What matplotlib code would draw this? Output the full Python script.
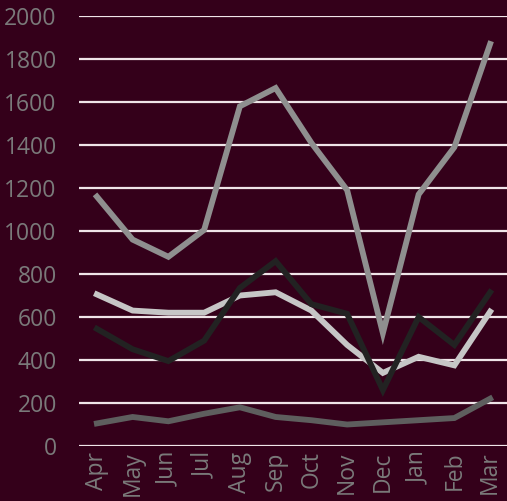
import matplotlib.pyplot as plt
import numpy as np

months = ["Apr", "May", "Jun", "Jul", "Aug", "Sep", "Oct", "Nov", "Dec", "Jan", "Feb", "Mar"]
series_a = [1160, 960, 880, 1005, 1580, 1665, 1410, 1190, 525, 1170, 1390, 1870]
series_b = [705, 630, 620, 620, 700, 715, 630, 470, 340, 415, 375, 625]
series_c = [545, 450, 395, 490, 735, 860, 660, 615, 260, 600, 470, 715]
series_d = [105, 135, 115, 150, 180, 135, 120, 100, 110, 120, 130, 220]
yticks = [0, 200, 400, 600, 800, 1000, 1200, 1400, 1600, 1800, 2000]

bg = "#34001a"
plt.rcParams['font.family'] = ['Open Sans', 'DejaVu Sans']

fig = plt.figure(figsize=(5.07, 5.01), dpi=100)
fig.patch.set_facecolor(bg)
# plot area runs slightly past the right edge, like the original
ax = fig.add_axes([79 / 507, 1 - 446 / 501, 429 / 507, 430 / 501])
ax.set_facecolor(bg)

x = np.arange(len(months))
lw = 4.2
ax.plot(x, series_a, color="#8f8f8f", lw=lw, solid_joinstyle="miter", zorder=3)
ax.plot(x, series_b, color="#c6c6c6", lw=lw, solid_joinstyle="miter", zorder=4)
ax.plot(x, series_c, color="#222222", lw=lw, solid_joinstyle="miter", zorder=5)
ax.plot(x, series_d, color="#5e5e5e", lw=lw, solid_joinstyle="miter", zorder=6)

ax.set_xlim(-0.5, len(months) - 0.5)
ax.set_ylim(0, 2000)
ax.set_yticks(yticks)
ax.set_xticks(x)
ax.set_xticklabels(months, rotation=90)
ax.grid(axis="y", color="#efe4e8", lw=1.6, zorder=1)
ax.tick_params(length=0, colors="#7a7a7a", labelsize=16.5)
ax.tick_params(axis="y", pad=16)
ax.tick_params(axis="x", pad=4)
for s in ax.spines.values():
    s.set_visible(False)

fig.savefig("out.png", dpi=100, facecolor=bg)
